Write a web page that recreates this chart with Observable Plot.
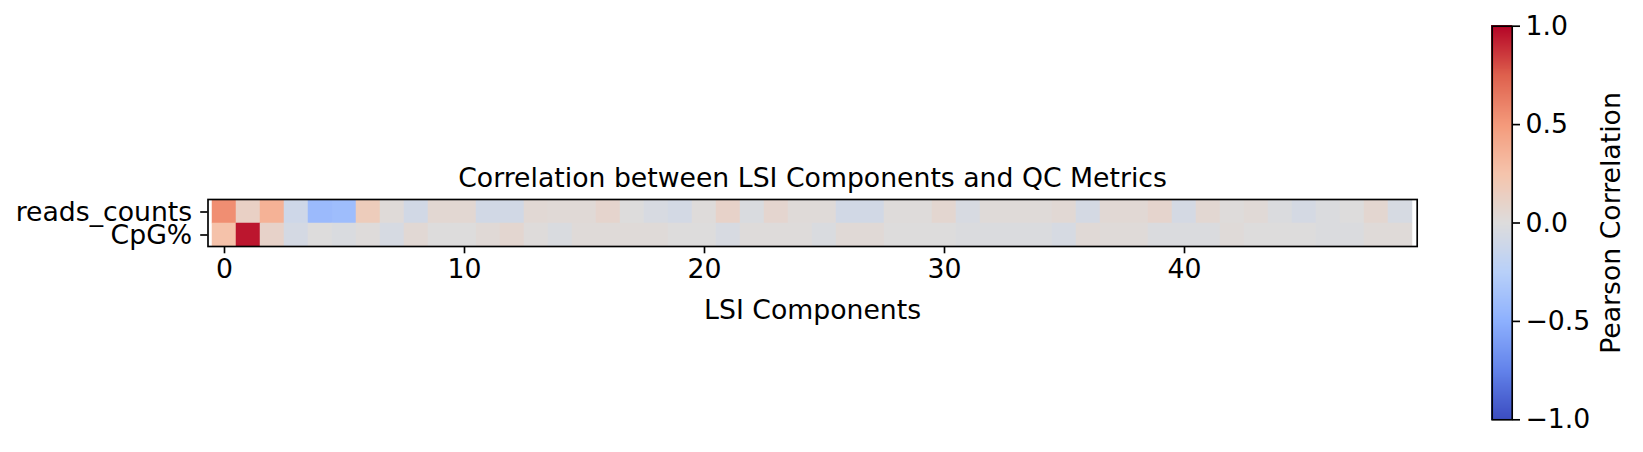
<!DOCTYPE html>
<html>
<head>
<meta charset="utf-8">
<script src="https://cdn.jsdelivr.net/npm/d3@7"></script>
<script src="https://cdn.jsdelivr.net/npm/@observablehq/plot@0.6"></script>
<style>
  html, body { margin: 0; padding: 0; background: white; }
  #wrap { position: relative; width: 1643px; height: 452px; }
  #wrap svg { position: absolute; left: 0; top: 0; }
  g[aria-label^="x-axis"] line, g[aria-label^="x-axis"] path,
  g[aria-label^="y-axis"] line, g[aria-label^="y-axis"] path { stroke-width: 1.67px; }
</style>
</head>
<body>
<div id="wrap"></div>
<script>
// ---- data ----
const metrics = ["reads_counts", "CpG%"];
const components = d3.range(50);
const readsCounts = [
  0.55, 0.12, 0.36, -0.10, -0.42, -0.40, 0.17, 0.02, -0.08, 0.05,
  0.05, -0.08, -0.08, 0.04, 0.03, 0.03, 0.08, 0.00, -0.04, -0.07,
  0.01, 0.10, -0.03, 0.07, 0.02, 0.02, -0.08, -0.08, 0.01, 0.01,
  0.06, -0.04, 0.02, 0.02, 0.02, 0.04, -0.06, 0.04, 0.04, 0.08,
  -0.06, 0.05, 0.01, 0.03, -0.02, -0.06, -0.02, 0.00, 0.06, -0.05
];
const cpgPct = [
  0.26, 0.95, 0.10, -0.06, 0.00, -0.03, 0.01, -0.05, 0.04, 0.00,
  0.00, 0.03, 0.06, 0.01, -0.03, 0.02, 0.02, 0.02, 0.02, 0.00,
  0.00, -0.04, 0.01, 0.01, 0.01, -0.03, 0.03, 0.03, 0.00, 0.00,
  0.00, -0.02, -0.02, -0.02, -0.02, -0.05, 0.03, 0.02, 0.02, -0.02,
  -0.02, -0.02, 0.02, 0.00, 0.00, 0.00, -0.02, -0.02, 0.02, 0.02
];
const xTicks = [0, 10, 20, 30, 40];
const cbarTicks = [-1, -0.5, 0, 0.5, 1];
const title = "Correlation between LSI Components and QC Metrics";
const xLabel = "LSI Components";
const cbarLabel = "Pearson Correlation";

const seriesByMetric = {"reads_counts": readsCounts, "CpG%": cpgPct};
const cells = metrics.flatMap(m => components.map((c, i) => ({metric: m, comp: c, r: seriesByMetric[m][i]})));

// coolwarm approximation
const coolwarm = {
  type: "linear",
  domain: [-1, -0.75, -0.5, -0.25, 0, 0.25, 0.5, 0.75, 1],
  range: ["#3b4cc0", "#6282ea", "#8db0fe", "#b8d0f9", "#dddcdc", "#f5c4ac", "#f49a7b", "#de604d", "#b40426"],
  interpolate: "rgb",
  clamp: true
};

const FS = 26.7;
const font = {fontFamily: "DejaVu Sans", fontSize: FS + "px", color: "black", overflow: "visible"};

const main = Plot.plot({
  width: 1643, height: 452,
  marginLeft: 207.5, marginRight: 226.3, marginTop: 199, marginBottom: 206,
  style: {...font, background: "white"},
  x: {type: "band", domain: components, padding: 0, ticks: xTicks, tickSize: 7.3, tickPadding: 5, label: null},
  y: {type: "band", domain: metrics, padding: 0, tickSize: 7.3, tickPadding: 8.5, label: null},
  color: coolwarm,
  marks: [
    Plot.cell(cells, {x: "comp", y: "metric", fill: "r", stroke: "r", strokeWidth: 0.5, inset: 0}),
    Plot.frame({stroke: "black", strokeWidth: 1.67}),
    Plot.text([title], {frameAnchor: "top", lineAnchor: "bottom", dy: -13, fontSize: FS, fill: "black"}),
    Plot.text([xLabel], {frameAnchor: "bottom", lineAnchor: "bottom", dy: 72, fontSize: FS, fill: "black"})
  ]
});

const cbarSteps = d3.range(-1, 1, 0.005);
const cbar = Plot.plot({
  width: 1643, height: 452,
  marginLeft: 1491.7, marginRight: 131.3, marginTop: 25.7, marginBottom: 32.7,
  style: {...font, background: "transparent"},
  x: {domain: [0, 1], axis: null},
  y: {domain: [-1, 1], axis: "right", ticks: cbarTicks, tickFormat: d3.format(".1f"), tickSize: 7.3, tickPadding: 6, label: null},
  color: coolwarm,
  marks: [
    Plot.rect(cbarSteps, {x1: 0, x2: 1, y1: d => d, y2: d => d + 0.005, fill: d => d + 0.0025, stroke: d => d + 0.0025, strokeWidth: 1, shapeRendering: "crispEdges"}),
    Plot.frame({stroke: "black", strokeWidth: 1.67}),
    Plot.text([cbarLabel], {frameAnchor: "right", textAnchor: "middle", rotate: -90, dx: 99, lineAnchor: "middle", fontSize: FS, fill: "black"})
  ]
});

const wrap = document.getElementById("wrap");
wrap.appendChild(main);
wrap.appendChild(cbar);
</script>
</body>
</html>
